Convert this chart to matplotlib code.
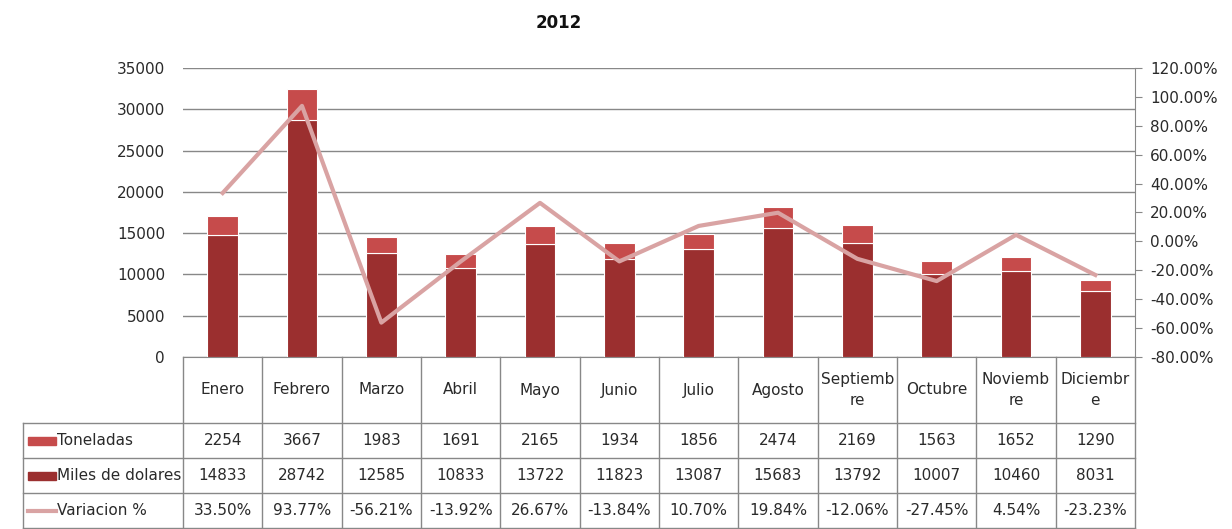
import matplotlib
matplotlib.use("Agg")
import matplotlib.pyplot as plt
from matplotlib.transforms import blended_transform_factory
from matplotlib.ticker import FuncFormatter

plt.rcParams['font.family'] = ['Liberation Sans Narrow', 'DejaVu Sans']

meses = ["Enero", "Febrero", "Marzo", "Abril", "Mayo", "Junio", "Julio",
         "Agosto", "Septiemb\nre", "Octubre", "Noviemb\nre", "Diciembr\ne"]
toneladas = [2254, 3667, 1983, 1691, 2165, 1934, 1856, 2474, 2169, 1563, 1652, 1290]
miles = [14833, 28742, 12585, 10833, 13722, 11823, 13087, 15683, 13792, 10007, 10460, 8031]
variacion = [33.50, 93.77, -56.21, -13.92, 26.67, -13.84, 10.70, 19.84, -12.06, -27.45, 4.54, -23.23]

c_ton = "#C64B4B"
c_miles = "#9B2F2F"
c_var = "#D9A3A3"
grid_c = "#888888"
txt_c = "#2a2a2a"
fs = 11

W, H = 1232, 529
fig = plt.figure(figsize=(W / 100, H / 100), dpi=100)
x0, x1, y_top, y_bot = 183, 1135, 68, 357
ax = fig.add_axes([x0 / W, 1 - y_bot / H, (x1 - x0) / W, (y_bot - y_top) / H])

x = list(range(len(meses)))
ax.bar(x, miles, width=0.39, color=c_miles, edgecolor="white", linewidth=0.8, zorder=3)
ax.bar(x, toneladas, width=0.39, bottom=miles, color=c_ton, edgecolor="white",
       linewidth=0.8, zorder=3)
ax.set_xlim(-0.5, len(meses) - 0.5)
ax.set_ylim(0, 35000)
ax.set_yticks(range(0, 35001, 5000))
ax.yaxis.grid(True, color=grid_c, linewidth=1)
ax.set_axisbelow(True)
ax.set_xticks([])
ax.tick_params(axis="y", length=0, pad=13, labelsize=fs, labelcolor=txt_c)
for s in ["left", "right", "top"]:
    ax.spines[s].set_visible(False)
ax.spines["bottom"].set_color(grid_c)

ax2 = ax.twinx()
ax2.plot(x, [v / 100 for v in variacion], color=c_var, linewidth=3, zorder=4)
ax2.set_ylim(-0.8, 1.2)
ax2.set_yticks([i / 10 for i in range(-8, 13, 2)])
ax2.yaxis.set_major_formatter(FuncFormatter(lambda v, p: "%.2f%%" % (v * 100)))
ax2.tick_params(axis="y", length=5, color=grid_c, pad=6, labelsize=fs, labelcolor=txt_c)
for s in ["left", "top", "bottom"]:
    ax2.spines[s].set_visible(False)
ax2.spines["right"].set_color(grid_c)

fig.text(559 / W, 1 - 23 / H, "2012", ha="center", va="center", fontsize=12,
         fontweight="bold", color="#111111")

# data table under the plot
tr = blended_transform_factory(ax.transData, fig.transFigure)
def fy(p):
    return 1 - p / H
lab_x = -0.5 - (x0 - 23) / ((x1 - x0) / len(meses))
rows_y = [357, 423, 458, 493, 528]
line_kw = dict(color=grid_c, linewidth=1, transform=tr, clip_on=False)
for yy in rows_y[1:]:
    ax.add_line(plt.Line2D([lab_x, len(meses) - 0.5], [fy(yy), fy(yy)], **line_kw))
for i in range(len(meses) + 1):
    ax.add_line(plt.Line2D([i - 0.5, i - 0.5], [fy(357), fy(528)], **line_kw))
ax.add_line(plt.Line2D([lab_x, lab_x], [fy(423), fy(528)], **line_kw))

for i, m in enumerate(meses):
    ax.text(i, fy((357 + 423) / 2), m, transform=tr, ha="center", va="center",
            fontsize=fs, color=txt_c, linespacing=1.5)
    ax.text(i, fy((423 + 458) / 2), str(toneladas[i]), transform=tr, ha="center",
            va="center", fontsize=fs, color=txt_c)
    ax.text(i, fy((458 + 493) / 2), str(miles[i]), transform=tr, ha="center",
            va="center", fontsize=fs, color=txt_c)
    ax.text(i, fy((493 + 528) / 2), "%.2f%%" % variacion[i], transform=tr,
            ha="center", va="center", fontsize=fs, color=txt_c)

names = ["Toneladas", "Miles de dolares", "Variacion %"]
fr = fig.transFigure
for k, (nm, yy) in enumerate(zip(names, rows_y[1:4])):
    yc = fy((yy + rows_y[k + 2]) / 2)
    if k < 2:
        fig.patches.append(plt.Rectangle((28 / W, yc - 4 / H), 28 / W, 8 / H,
                                         color=[c_ton, c_miles][k], transform=fr))
    else:
        fig.lines.append(plt.Line2D([28 / W, 56 / W], [yc, yc], color=c_var,
                                    linewidth=3, transform=fr))
    fig.text(57 / W, yc, nm, ha="left", va="center", fontsize=fs, color=txt_c)

fig.savefig("out.png", dpi=100)
